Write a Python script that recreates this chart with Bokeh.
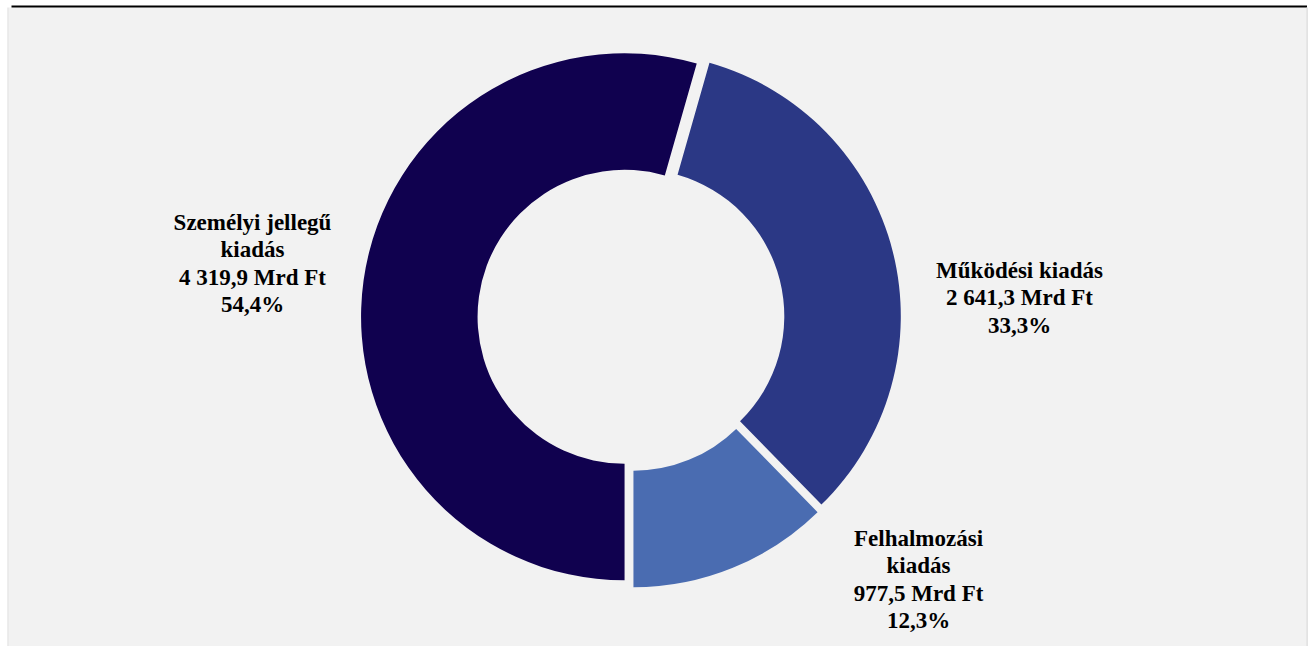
import numpy as np
from bokeh.plotting import figure
from bokeh.models import Range1d, ColumnDataSource
from bokeh.core.properties import value
from bokeh.embed import file_html
from bokeh.resources import INLINE

# ---- data ----
categories = ["Személyi jellegű kiadás", "Működési kiadás", "Felhalmozási kiadás"]
label_names = [["Személyi jellegű", "kiadás"], ["Működési kiadás"], ["Felhalmozási", "kiadás"]]
values_mrd = [4319.9, 2641.3, 977.5]
colors = ["#10014F", "#2B3885", "#4A6CB1"]

# ---- layout (page pixels) ----
W, H = 1314, 646
CX, CY = 630.5, 317.2
R_OUT, R_IN = 263.5, 147.0
EXPLODE = 6.5
START_CW = 180.0  # first slice starts at 6 o'clock, clockwise
FONT_PX = 23
LINE_STEP = 27.3
label_anchor = [(252, 222), (1019, 270), (918, 538)]  # centre x, first line y


def fy(page_y):
    return H - page_y


vals = np.array(values_mrd)
frac = vals / vals.sum()
cum = np.concatenate([[0], np.cumsum(frac)]) * 360.0
phi1 = START_CW + cum[:-1]
phi2 = START_CW + cum[1:]
phim = (phi1 + phi2) / 2

cxs = CX + EXPLODE * np.sin(np.radians(phim))
cys = fy(CY) + EXPLODE * np.cos(np.radians(phim))
start = np.radians(90 - phi2)
end = np.radians(90 - phi1)

p = figure(width=W, height=H, output_backend="svg", toolbar_location=None,
           x_range=Range1d(0, W), y_range=Range1d(0, H),
           min_border=0, background_fill_color="white", border_fill_color="white",
           outline_line_color=None)
p.axis.visible = False
p.grid.visible = False

# panel background, top black rule, light side borders
p.quad(left=[8], right=[1306.5], top=[fy(7)], bottom=[fy(646)], fill_color="#F2F2F2", line_color=None)
p.quad(left=[11], right=[1306.5], top=[fy(5)], bottom=[fy(7)], fill_color="black", line_color=None)
p.quad(left=[7, 1306], right=[8, 1307.3], top=[fy(7), fy(7)],
       bottom=[fy(646), fy(646)], fill_color="#DCDCDC", line_color=None)

src = ColumnDataSource(dict(x=cxs, y=cys, start=start, end=end, color=colors, cat=categories))
p.annular_wedge(x="x", y="y", inner_radius=R_IN, outer_radius=R_OUT,
                start_angle="start", end_angle="end", direction="anticlock",
                fill_color="color", line_color=None, source=src)


def fmt_val(v):
    s = f"{v:,.1f}".replace(",", " ").replace(".", ",")
    return s + " Mrd Ft"


tx, ty, tt = [], [], []
for i in range(len(categories)):
    lines = label_names[i] + [fmt_val(values_mrd[i]), f"{frac[i]*100:.1f}%".replace(".", ",")]
    ax, ay = label_anchor[i]
    for k, ln in enumerate(lines):
        tx.append(ax)
        ty.append(fy(ay + k * LINE_STEP))
        tt.append(ln)

p.text(x=tx, y=ty, text=tt, text_font=value("Liberation Serif"), text_font_style="bold",
       text_font_size=f"{FONT_PX}px", text_color="#000000", text_align="center",
       text_baseline="middle")

open("out.html", "w").write(file_html(p, INLINE))
